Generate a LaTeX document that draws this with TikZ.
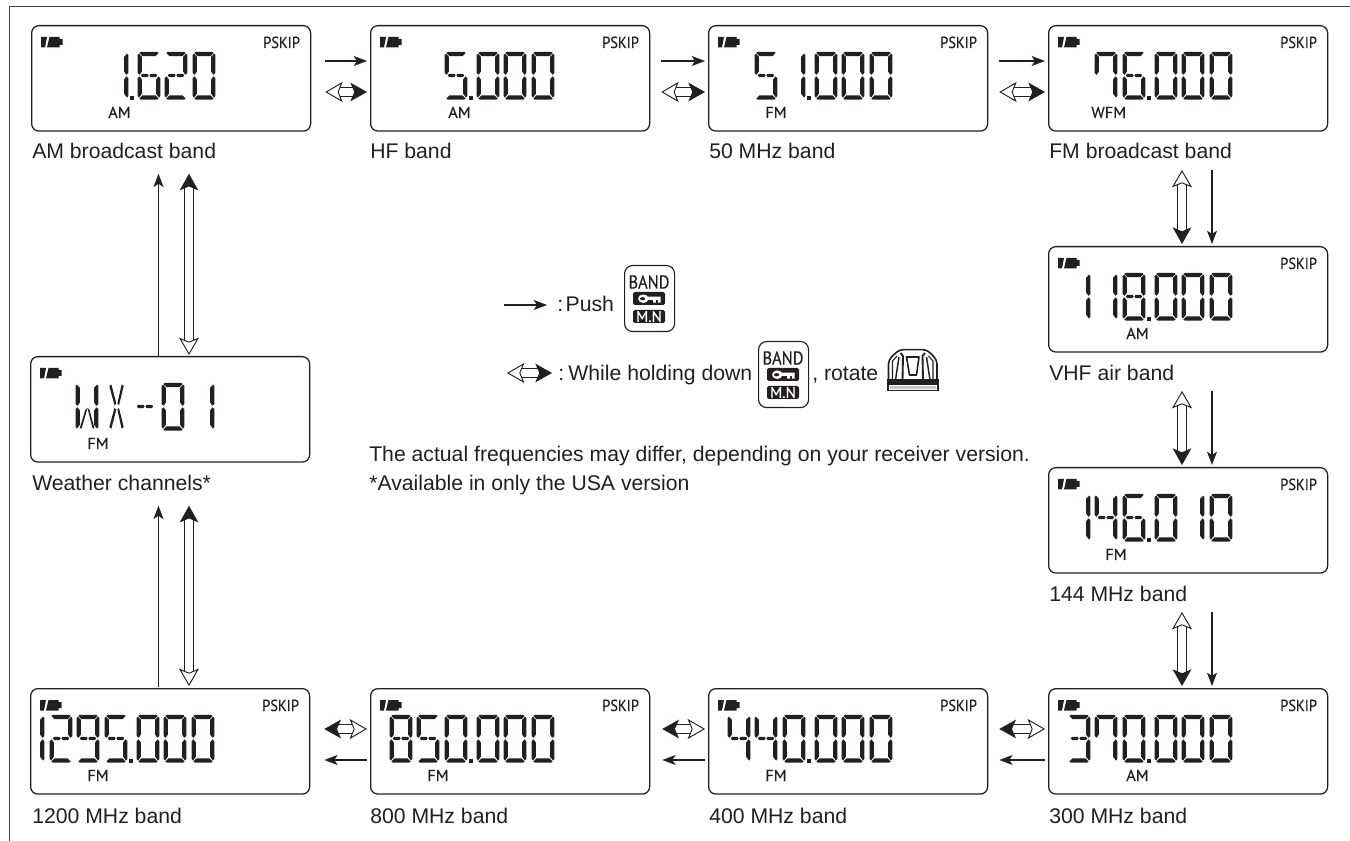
\documentclass[tikz,border=0pt]{standalone}
\usepackage{fontspec}
\setmainfont{Liberation Sans}
\newfontfamily\lcdfont[FakeBold=0.4]{PT Sans}
\usetikzlibrary{arrows.meta,calc}
\definecolor{ink}{HTML}{231F20}
\tikzset{
  lcd/.style={draw=ink,line width=.95pt,rounded corners=5.5pt,minimum width=209.25pt,minimum height=79.1pt,inner sep=0pt,anchor=north west},
  seg/.style={fill=ink,draw=none},
  bandlabel/.style={anchor=base west,inner sep=0pt,text=ink,font=\fontsize{15.9}{18}\selectfont},
  thinar/.style={draw=ink,line width=.85pt,-{Stealth[length=10pt,width=7.5pt,inset=2.5pt]}},
  dblar/.style={draw=ink,line width=.7pt,double=white,double distance=5.4pt,
    {Stealth[length=13pt,width=15pt,inset=3pt,fill=white,line width=.7pt]}-{Stealth[length=12.5pt,width=14pt,inset=3pt,fill=ink,line width=.7pt]}},
  btn/.style={draw=ink,line width=.85pt,rounded corners=6pt,minimum width=37.5pt,minimum height=49.5pt,inner sep=0pt,anchor=north west},
}
\newif\ifshowpskip \showpskiptrue
\def\segA{\fill[seg] (3,-.2)--(19,-.2)--(20.6,.9)--(17.6,4.1)--(4.4,4.1)--(1.4,.9)--cycle;}
\def\segD{\fill[seg] (4.4,43.4)--(17.6,43.4)--(20.6,46.5)--(19,47.7)--(3,47.7)--(1.4,46.5)--cycle;}
\def\segF{\fill[seg] (-.3,3)--(.9,1.6)--(3.9,4.8)--(3.9,19.5)--(1.6,22.8)--(-.3,21)--cycle;}
\def\segE{\fill[seg] (-.3,26)--(1.6,24.4)--(3.9,27.5)--(3.9,41.8)--(.9,45.6)--(-.3,44)--cycle;}
\def\segB{\fill[seg] (22.3,3)--(21.1,1.6)--(18.1,4.8)--(18.1,19.5)--(20.4,22.8)--(22.3,21)--cycle;}
\def\segC{\fill[seg] (22.3,26)--(20.4,24.4)--(18.1,27.5)--(18.1,41.8)--(21.1,45.6)--(22.3,44)--cycle;}
\def\segG{\fill[seg] (4,21.9)--(9.5,21.9)--(10.6,23.4)--(9.5,25.1)--(4,25.1)--(2.9,23.4)--cycle;
        \fill[seg] (12.5,21.9)--(18,21.9)--(19.1,23.4)--(18,25.1)--(12.5,25.1)--(11.4,23.4)--cycle;}
\def\segP{\fill[seg] (24,43.8)--(27.8,43.8)--(27.8,47.6)--(24,47.6)--cycle;}
\def\dZ{\segA\segB\segC\segD\segE\segF}
\def\dO{\segB\segC}
\def\dT{\segA\segB\segG\segE\segD}
\def\dH{\segA\segB\segG\segC\segD}
\def\dF{\segF\segG\segB\segC}
\def\dV{\segA\segF\segG\segC\segD}
\def\dS{\segA\segF\segE\segD\segC\segG}
\def\dL{\segA\segF\segB\segC}
\def\dE{\segA\segB\segC\segD\segE\segF\segG}
\def\dN{\segA\segB\segC\segD\segF\segG}
\newcommand\lcddg[2]{\begin{scope}[shift={(#1,27)}]#2\end{scope}}
\def\battery{%
  \fill[seg] (10,12)--(16,12)--(14,22.5)--(10,22.5)--cycle;
  \fill[seg] (18.5,12)--(28.5,12)--(28.5,14)--(31.5,14)--(31.5,20)--(28.5,20)--(28.5,22.5)--(16,22.5)--cycle;}
% name, x, y, mode, mode x, digits
\newcommand\lcdbox[6]{%
  \node[lcd] (#1) at (#2,#3) {};
  \begin{scope}[shift={(#2,#3)}]
    \battery
    \ifshowpskip
    \node[anchor=base west,inner sep=0pt,text=ink] (#1psk) at (232,23) {\lcdfont\fontsize{12}{13}\selectfont\scalebox{.9}[1]{PSKIP}};
    \fi
    \node[anchor=base west,inner sep=0pt,text=ink] (#1mode) at (#5,93) {\lcdfont\fontsize{12}{13}\selectfont\scalebox{1.02}[1]{#4}};
    #6
  \end{scope}}
% button
\newcommand\bandbtn[3]{%
  \node[btn] (#1) at (#2,#3) {};
  \begin{scope}[shift={(#2,#3)}]
    \node[inner sep=0pt,text=ink] (#1t) at (25,17) {\lcdfont\fontsize{14}{15}\selectfont\scalebox{.88}[1]{BAND}};
    \fill[ink,rounded corners=1.2pt] (9,27) rectangle (41,40);
    \fill[white] (19.3,33.7) ellipse (5.2 and 4.3);
    \fill[ink] (18.6,33.7) ellipse (2.6 and 1.6);
    \fill[white] (23,31.7)--(36.5,31.7)--(36.5,37.7)--(33.8,37.7)--(33.8,35)--(31.8,35)--(31.8,37.7)--(29,37.7)--(29,35)--(23,35)--cycle;
    \fill[ink,rounded corners=1.2pt] (9,45) rectangle (41,58);
    \node[inner sep=0pt,text=white] (#1m) at (25,51.5) {\lcdfont\fontsize{11.5}{12}\selectfont M.N};
  \end{scope}}
\begin{document}
\begin{tikzpicture}[x=.75pt,y=-.75pt]
\useasboundingbox (0,0) rectangle (1350,841);
\draw[ink!85,line width=.9pt] (1350,6.5)--(9.5,6.5)--(9.5,841);

\lcdbox{am}{31}{25}{AM}{77}{\lcddg{75}{\dO\segP}\lcddg{107}{\dS}\lcddg{134}{\dT}\lcddg{162}{\dZ}}
\lcdbox{hf}{370}{25}{AM}{78}{\lcddg{75}{\dV\segP}\lcddg{107}{\dZ}\lcddg{134}{\dZ}\lcddg{162}{\dZ}}
\lcdbox{fifty}{708}{25}{FM}{57}{\lcddg{47}{\dV}\lcddg{75}{\dO\segP}\lcddg{107}{\dZ}\lcddg{134}{\dZ}\lcddg{162}{\dZ}}
\lcdbox{fmb}{1048}{25}{WFM}{43}{\lcddg{47}{\dL}\lcddg{75}{\dS\segP}\lcddg{107}{\dZ}\lcddg{134}{\dZ}\lcddg{162}{\dZ}}
\lcdbox{vhf}{1048}{246}{AM}{78}{\lcddg{20}{\dO}\lcddg{47}{\dO}\lcddg{75}{\dE\segP}\lcddg{107}{\dZ}\lcddg{134}{\dZ}\lcddg{162}{\dZ}}
\lcdbox{m144}{1048}{467}{FM}{57}{\lcddg{20}{\dO}\lcddg{47}{\dF}\lcddg{75}{\dS\segP}\lcddg{107}{\dZ}\lcddg{134}{\dO}\lcddg{162}{\dZ}}
\lcdbox{m300}{1048}{688}{AM}{78}{\lcddg{20}{\dH}\lcddg{47}{\dL}\lcddg{75}{\dZ\segP}\lcddg{107}{\dZ}\lcddg{134}{\dZ}\lcddg{162}{\dZ}}
\lcdbox{m400}{708}{688}{FM}{57}{\lcddg{20}{\dF}\lcddg{47}{\dF}\lcddg{75}{\dZ\segP}\lcddg{107}{\dZ}\lcddg{134}{\dZ}\lcddg{162}{\dZ}}
\lcdbox{m800}{370}{688}{FM}{57}{\lcddg{20}{\dE}\lcddg{47}{\dV}\lcddg{75}{\dZ\segP}\lcddg{107}{\dZ}\lcddg{134}{\dZ}\lcddg{162}{\dZ}}
\lcdbox{m1200}{30}{688}{FM}{57}{\lcddg{-8}{\dO}\lcddg{20}{\dT}\lcddg{47}{\dN}\lcddg{75}{\dV\segP}\lcddg{107}{\dZ}\lcddg{134}{\dZ}\lcddg{162}{\dZ}}
\showpskipfalse
\lcdbox{wx}{30}{356}{FM}{57}{%
  \begin{scope}[shift={(46,27)}]
    \segF\segE\segB\segC
    \fill[seg] (11.5,25)--(9.3,27)--(3.6,45.5)--(5.6,45.5)--cycle;
    \fill[seg] (11.5,25)--(13.5,27)--(18.5,45.5)--(16.6,45.5)--cycle;
  \end{scope}
  \begin{scope}[shift={(79,27)}]
    \fill[seg] (.3,3)--(2.4,1.5)--(7.3,20.5)--(5.5,22.3)--cycle;
    \fill[seg] (14.7,3)--(12.6,1.5)--(8.4,20.5)--(10,22.3)--cycle;
    \fill[seg] (5.5,25)--(7.3,26.5)--(2.4,45.8)--(.3,44)--cycle;
    \fill[seg] (10,25)--(8.4,26.5)--(12.6,45.8)--(14.7,44)--cycle;
  \end{scope}
  \begin{scope}[shift={(104,27)}]\segG\end{scope}
  \lcddg{132}{\dZ}\lcddg{162}{\dO}}
\showpskiptrue

\node[bandlabel] (lam) at (32,158.5) {AM broadcast band};
\node[bandlabel] (lhf) at (370,158.5) {HF band};
\node[bandlabel] (lfif) at (709,158.5) {50 MHz band};
\node[bandlabel] (lfm) at (1049,158.5) {FM broadcast band};
\node[bandlabel] (lvhf) at (1049,381) {VHF air band};
\node[bandlabel] (l144) at (1049,601) {144 MHz band};
\node[bandlabel] (l300) at (1049,823) {300 MHz band};
\node[bandlabel] (l400) at (709,823) {400 MHz band};
\node[bandlabel] (l800) at (370,823) {800 MHz band};
\node[bandlabel] (l1200) at (32,823) {1200 MHz band};
\node[bandlabel] (lwx) at (32,490) {Weather channels*};
\node[bandlabel] (n1) at (369,462) {The actual frequencies may differ, depending on your receiver version.};
\node[bandlabel] (n2) at (369,490) {*Available in only the USA version};

% top row
\draw[thinar] ([shift={(14,36)}]am.north east) -- ([shift={(-3,36)}]hf.north west);
\draw[dblar] ([shift={(14,67)}]am.north east) -- ([shift={(-3,67)}]hf.north west);
\draw[thinar] ([shift={(11,36)}]hf.north east) -- ([shift={(-3,36)}]fifty.north west);
\draw[dblar] ([shift={(11,67)}]hf.north east) -- ([shift={(-3,67)}]fifty.north west);
\draw[thinar] ([shift={(11,36)}]fifty.north east) -- ([shift={(-3,36)}]fmb.north west);
\draw[dblar] ([shift={(11,67)}]fifty.north east) -- ([shift={(-3,67)}]fmb.north west);
% right column
\foreach \b in {vhf,m144,m300}{
  \draw[dblar] ([shift={(134,-76)}]\b.north west) -- ([shift={(134,-2)}]\b.north west);
  \draw[thinar] ([shift={(164,-76)}]\b.north west) -- ([shift={(164,-2)}]\b.north west);
}
% bottom row
\foreach \a/\b/\d in {m300/m400/11,m400/m800/12,m800/m1200/14}{
  \draw[thinar] ([shift={(-3,72)}]\a.north west) -- ([shift={(\d,72)}]\b.north east);
  \draw[dblar] ([shift={(-3,41)}]\a.north west) -- ([shift={(\d,41)}]\b.north east);
}
% left column
\draw[thinar] ([shift={(128.5,0)}]wx.north west) -- ([shift={(127.5,42)}]am.south west);
\draw[dblar] ([shift={(159,-1)}]wx.north west) -- ([shift={(158,42)}]am.south west);
\draw[thinar] ([shift={(128.5,-1)}]m1200.north west) -- ([shift={(128.5,43)}]wx.south west);
\draw[dblar] ([shift={(159,-2)}]m1200.north west) -- ([shift={(159,43)}]wx.south west);

% legend
\coordinate (pa) at (504,305); \coordinate (pb) at (547,305);
\coordinate (ra) at (507,373); \coordinate (rb) at (552,373);
\draw[thinar] (pa) -- (pb);
\draw[dblar] (ra) -- (rb);
\node[bandlabel] (push) at (557,312) {:\kern.12em Push};
\bandbtn{b1}{624}{265}
\node[bandlabel] (hold) at (558,381) {:\kern.2em While holding down};
\bandbtn{b2}{758}{341}
\node[bandlabel] (rot) at (812,381) {, rotate};
\begin{scope}[shift={(887,350)}]
  \draw[ink,line width=1.2pt,line join=round,rounded corners=3pt] (1.5,30)--(1.5,10)--(12,-.3)--(40,-.3)--(50,10)--(50,30);
  \draw[ink,line width=1.3pt,fill=white] (.7,30) rectangle (51,40.5);
  \fill[ink] (.7,30) rectangle (51,35.5);
  \fill[ink!25] (3,36.5) rectangle (48.7,39);
  \draw[ink,line width=.8pt] (5.5,30)--(5.5,11)--(10,6);
  \draw[ink,line width=.8pt] (46,30)--(46,11)--(41.5,6);
  \draw[ink,line width=1.1pt] (12,7)--(8.5,30);
  \draw[ink,line width=1.1pt] (39.5,7)--(43,30);
  \draw[ink,line width=1.4pt] (13.5,3)--(16,6)--(15.5,30);
  \draw[ink,line width=1.4pt] (38,3)--(35.5,6)--(36,30);
  \draw[ink,line width=1.2pt,line join=round] (19.5,7)--(32,7)--(29.5,25)--(22.5,25)--cycle;
\end{scope}
\end{tikzpicture}
\end{document}
